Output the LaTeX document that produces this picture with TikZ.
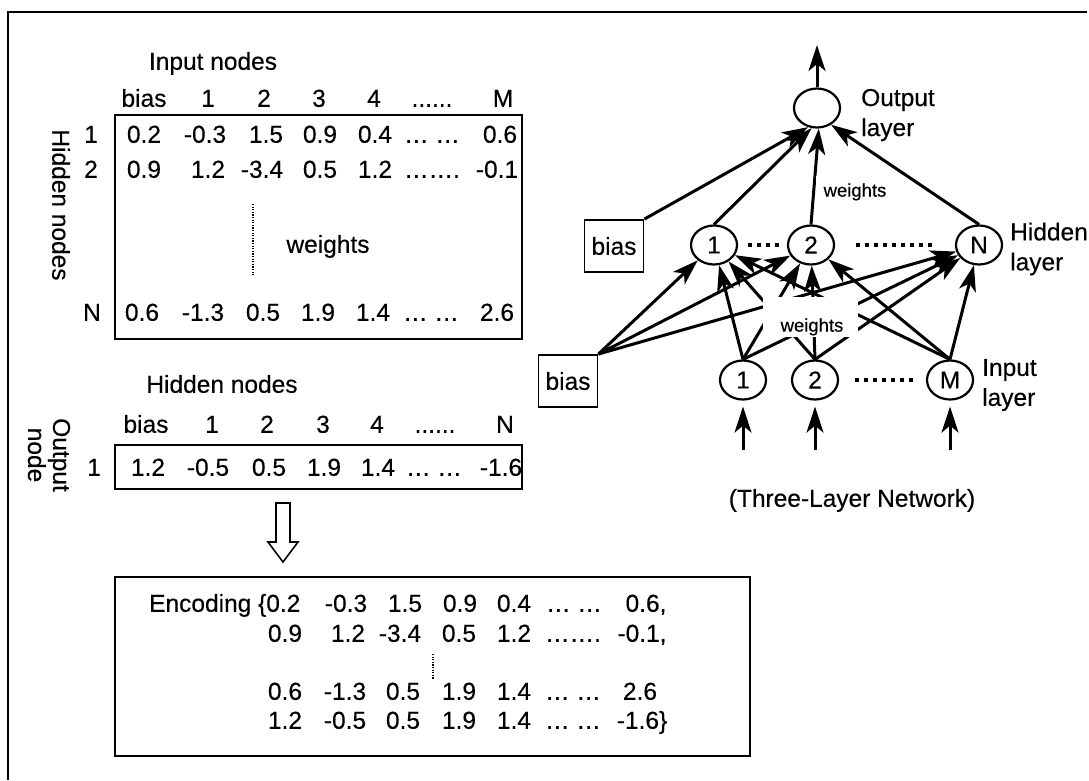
\documentclass[tikz,border=0pt]{standalone}
\usepackage{fontspec}
\setmainfont{Liberation Sans}[FakeBold=0.35]
\usetikzlibrary{arrows.meta,shapes.geometric}
\newcommand\sixdots{......}
\begin{document}
\begin{tikzpicture}[x=1pt,y=-1pt,
  every node/.style={inner sep=0pt},
  txt/.style={font=\fontsize{24.5}{28}\selectfont, text height=17.5pt, text depth=0pt},
  ml/.style={font=\fontsize{24.5}{30}\selectfont, align=left},
  smalltxt/.style={font=\fontsize{18.5}{21}\selectfont, text height=13.3pt, text depth=0pt},
  boxline/.style={draw, line width=1.9pt},
  neuron/.style={ellipse, draw, line width=2.2pt, minimum width=46pt, minimum height=39pt, font=\fontsize{24.5}{28}\selectfont},
  biasbox/.style={rectangle, draw, line width=1.9pt, minimum width=59pt, minimum height=52pt, font=\fontsize{24.5}{28}\selectfont},
  conn/.style={line width=3pt, -{Stealth[length=26pt,width=17pt,inset=7pt]}},
  heavydots/.style={line width=4pt, dash pattern=on 4pt off 5pt},
  finedots/.style={line width=1.1pt, dash pattern=on 1.1pt off 1.5pt},
]
\useasboundingbox (0,0) rectangle (1089,780);
% outer frame
\draw[line width=1.9pt] (8,780) -- (8,12) -- (1087,12);

% ---------- weight matrix input -> hidden ----------
\node[txt] (inlab) at (213,61) {Input nodes};
\foreach \x/\t [count=\i] in {144/bias,208/1,264/2,319/3,374/4,432/{\sixdots},503/M}
  \node[txt] (ha\i) at (\x,98) {\t};
\node[boxline, minimum width=407pt, minimum height=224pt] (wbox) at (318.5,227) {};
\node[txt, rotate=-90] (hnlab) at (61,205) {Hidden nodes};
\node[txt] (rl1) at (91,134) {1};
\node[txt] (rl2) at (91,169) {2};
\node[txt] (rlN) at (92,312) {N};
\foreach \x/\t [count=\i] in {144/0.2,205/-0.3,266/1.5,320/0.9,375/0.4,432/{… …},500/0.6}
  \node[txt] (ra\i) at (\x,134) {\t};
\foreach \x/\t [count=\i] in {144/0.9,208/1.2,262/-3.4,320/0.5,375/1.2,432/{…….},497/-0.1}
  \node[txt] (rb\i) at (\x,169) {\t};
\foreach \x/\t [count=\i] in {142/0.6,203/-1.3,263/0.5,318/1.9,373/1.4,431/{… …},497/2.6}
  \node[txt] (rc\i) at (\x,312) {\t};
\draw[finedots] (253,204) -- (253,275);
\node[txt] (wmid) at (328,244) {weights};

% ---------- weight matrix hidden -> output ----------
\node[txt] (hidlab) at (222,384) {Hidden nodes};
\foreach \x/\t [count=\i] in {146/bias,212/1,267/2,323/3,377/4,435/{\sixdots},505/N}
  \node[txt] (hb\i) at (\x,424) {\t};
\node[boxline, minimum width=407pt, minimum height=44pt] (obox) at (318.5,467) {};
\node[rotate=-90, align=center, font=\fontsize{24.5}{25}\selectfont] (onlab) at (49,455) {Output\\node};
\node[txt] (rlo) at (94,467) {1};
\foreach \x/\t [count=\i] in {148/1.2,208/-0.5,269/0.5,324/1.9,378/1.4,434/{… …},501/-1.6}
  \node[txt] (rd\i) at (\x,467) {\t};

% hollow arrow
\draw[line width=1.6pt] (276,503) -- (276,542) -- (268,542) -- (283,562) -- (298,542) -- (290,542) -- (290,503) -- cycle;

% ---------- encoding ----------
\node[boxline, minimum width=635pt, minimum height=179pt] (ebox) at (432.5,666.5) {};
\node[txt, anchor=west] (e1) at (149,603) {Encoding \{0.2};
\foreach \x/\t [count=\i] in {346/-0.3,405/1.5,460/0.9,514/0.4,574/{… …},646/{0.6,}}
  \node[txt] (ea\i) at (\x,603) {\t};
\foreach \x/\t [count=\i] in {285/0.9,348/1.2,400/-3.4,459/0.5,514/1.2,573/{…….},642/{-0.1,}}
  \node[txt] (eb\i) at (\x,633) {\t};
\foreach \x/\t [count=\i] in {285/0.6,345/-1.3,403/0.5,459/1.9,514/1.4,573/{… …},640/2.6}
  \node[txt] (ec\i) at (\x,691) {\t};
\foreach \x/\t [count=\i] in {285/1.2,345/-0.5,403/0.5,459/1.9,514/1.4,573/{… …},642/{-1.6\}}}
  \node[txt] (ed\i) at (\x,720) {\t};
\draw[finedots] (433,654) -- (433,679);

% ---------- network ----------
\node[neuron] (out) at (817,108) {};
\node[neuron] (h1) at (714,245) {1};
\node[neuron] (h2) at (811,245) {2};
\node[neuron] (hN) at (979,245) {N};
\node[neuron] (i1) at (743,380) {1};
\node[neuron] (i2) at (815,380) {2};
\node[neuron] (iM) at (950,380) {M};
\node[biasbox] (bU) at (614,246) {bias};
\node[biasbox] (bL) at (568,381) {bias};

\node[ml, anchor=west] (lout) at (861,115) {Output\\layer};
\node[ml, anchor=west] (lhid) at (1010,249) {Hidden\\layer};
\node[ml, anchor=west] (linp) at (982,385) {Input\\layer};
\node[txt] (title) at (852,498) {(Three-Layer Network)};

\coordinate (otop) at (817,45);
\coordinate (s1) at (743,450);
\coordinate (s2) at (815,450);
\coordinate (sM) at (950,450);

\draw[conn] (out.north) -- (otop);
\draw[conn] (bU.north east) -- (out.-115);
\draw[conn] (h1.north) -- (out.-105);
\draw[conn] (h2.north) -- (out.-85);
\draw[conn] (hN.north) -- (out.-50);
\foreach \s in {bL.north east,i1.north,i2.north,iM.north}
  \foreach \h in {h1,h2,hN} \draw[conn] (\s) -- (\h);
\draw[conn, shorten >=6pt] (s1) -- (i1.south);
\draw[conn, shorten >=6pt] (s2) -- (i2.south);
\draw[conn, shorten >=6pt] (sM) -- (iM.south);

\draw[heavydots, shorten <=10pt, shorten >=5pt] (h1) -- (h2);
\draw[heavydots, shorten <=21pt, shorten >=18pt] (h2) -- (hN);
\draw[heavydots, shorten <=16pt, shorten >=10pt] (i2) -- (iM);

\node[fill=white, minimum width=95pt, minimum height=40pt] (wlbg) at (810.5,317) {};
\node[smalltxt] (wl) at (812,325) {weights};
\node[fill=white, minimum width=88pt, minimum height=28pt] (wubg) at (860,190) {};
\node[smalltxt] (wu) at (855,190) {weights};
\end{tikzpicture}
\end{document}
